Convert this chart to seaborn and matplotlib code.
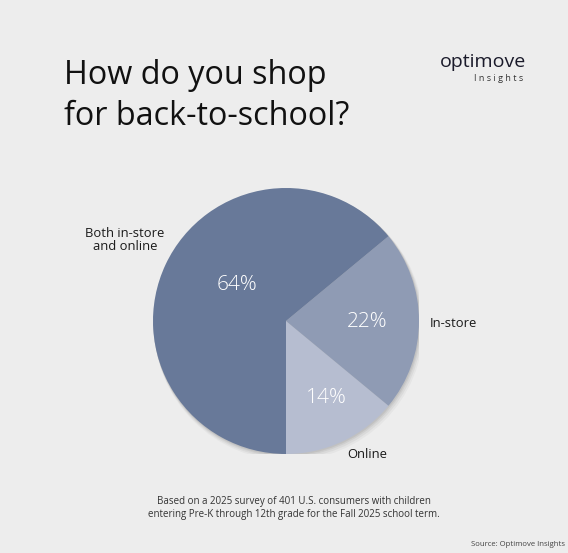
import matplotlib
matplotlib.use("Agg")
import matplotlib.pyplot as plt
from matplotlib.patches import Circle
import seaborn as sns

# Survey shares
categories = ["Online", "In-store", "Both in-store\nand online"]
shares = [14, 22, 64]
slice_colors = ["#b6bdd0", "#8f9bb4", "#687999"]

BG = "#ededed"
sns.set_theme(style="white", rc={"figure.facecolor": BG, "axes.facecolor": BG})
plt.rcParams["font.family"] = ["Open Sans", "DejaVu Sans"]

W, H = 568, 553
fig = plt.figure(figsize=(W / 100, H / 100), dpi=100)

# Pie axes: centre (286, 321) px, radius 133 px
cx, cy, r = 286, 321, 133
ax = fig.add_axes([(cx - r) / W, (H - cy - r) / H, 2 * r / W, 2 * r / H])
ax.set_facecolor(BG)

# soft drop shadow behind the pie
for off, a in [(0.035, 0.05), (0.025, 0.07), (0.015, 0.09), (0.008, 0.10)]:
    ax.add_patch(Circle((off * 0.6, -off), 1.0 + off * 0.4, color="#555555",
                        alpha=a, lw=0, zorder=0))

wedges, texts, autotexts = ax.pie(
    shares, colors=slice_colors, startangle=270, counterclock=True,
    autopct=lambda p: f"{p:.0f}%", radius=1.0,
    wedgeprops=dict(linewidth=0),
    textprops=dict(color="white", fontsize=15, fontweight="light"),
)
for w in wedges:
    w.set_zorder(2)

# percentage label placement inside each slice
pct_pos = [(0.30, -0.58), (0.61, -0.01), (-0.37, 0.27)]
for t, p in zip(autotexts, pct_pos):
    t.set_position(p)
    t.set_zorder(3)

# category labels outside the pie
lab_pos = [(0.61, -1.00, "center"), (1.08, -0.02, "left"), (-1.21, 0.61, "center")]
for lab, (x, y, ha) in zip(categories, lab_pos):
    ax.text(x, y, lab, ha=ha, va="center", fontsize=9.4, color="#1a1a1a",
            linespacing=1.0)

ax.set_xlim(-1, 1)
ax.set_ylim(-1, 1)
ax.set_aspect("equal")
ax.axis("off")

# Title
fig.text(64 / W, 1 - 84 / H, "How do you shop", fontsize=23.3, color="#111111",
         ha="left", va="baseline")
fig.text(64 / W, 1 - 125 / H, "for back-to-school?", fontsize=23.3, color="#111111",
         ha="left", va="baseline")

# Brand mark
fig.text(526 / W, 1 - 67 / H, "optimove", fontsize=14, color="#1a1a2a",
         ha="right", va="baseline")
fig.text(523 / W, 1 - 81 / H, "I n s i g h t s", fontsize=6.5, color="#333333",
         ha="right", va="baseline")

# Footnote
fig.text(294 / W, 1 - 508 / H,
         "Based on a 2025 survey of 401 U.S. consumers with children\n"
         "entering Pre-K through 12th grade for the Fall 2025 school term.",
         fontsize=7, color="#333333", ha="center", va="center", linespacing=1.15)
fig.text(565 / W, 1 - 545 / H, "Source: Optimove Insights", fontsize=5.6,
         color="#444444", ha="right", va="center")

fig.savefig("out.png", dpi=100, facecolor=BG)
